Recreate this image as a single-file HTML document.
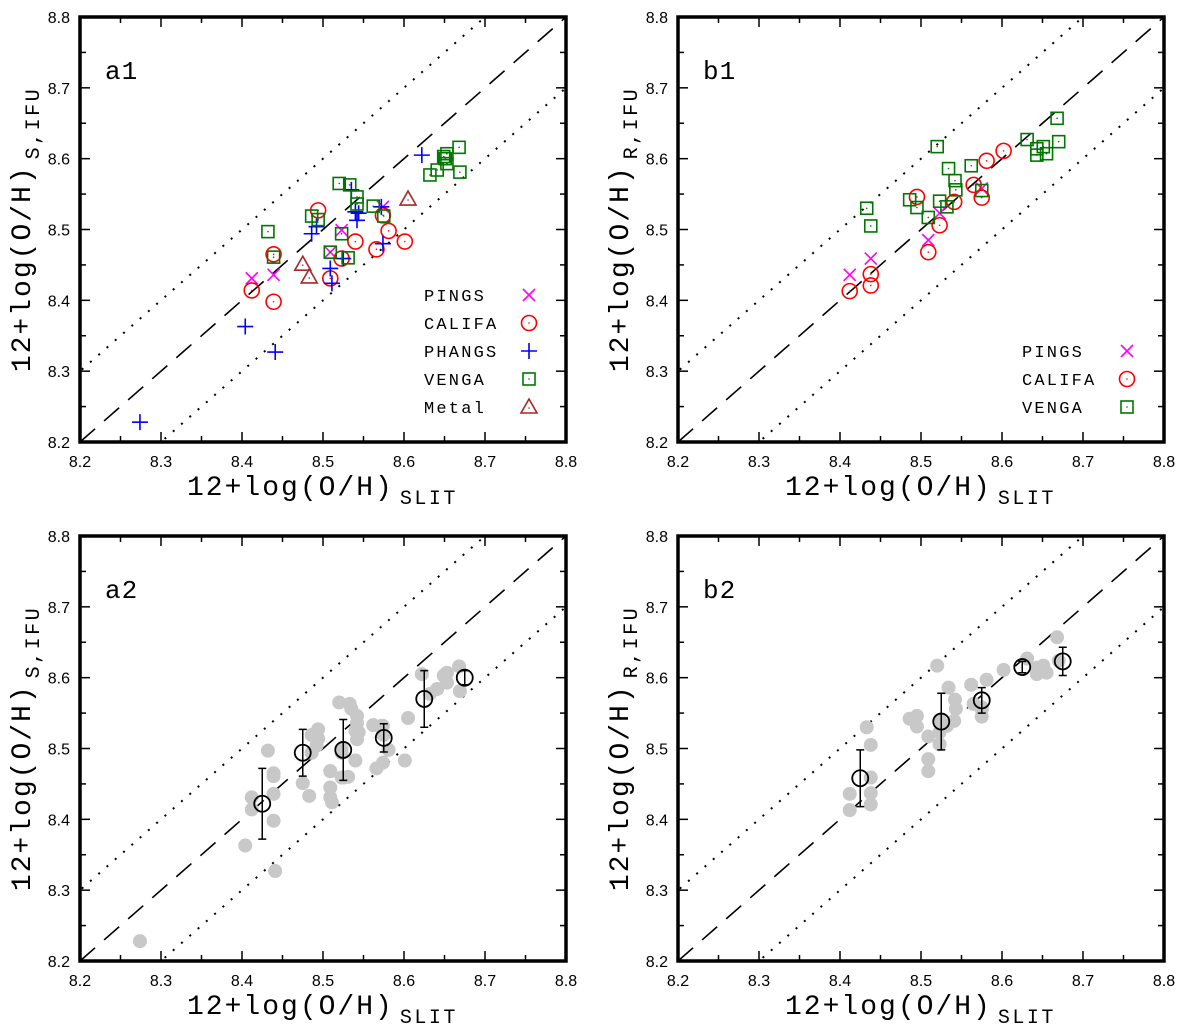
<!DOCTYPE html>
<html><head><meta charset="utf-8"><style>
html,body{margin:0;padding:0;background:#fff;width:1200px;height:1031px;overflow:hidden;}
svg{display:block;}
</style></head><body>
<svg id="fig" width="1200" height="1031" viewBox="0 0 1200 1031" xmlns="http://www.w3.org/2000/svg"></svg>
<script>
// ---- data ----
const pingsA = [[8.412,8.431],[8.439,8.436],[8.509,8.468],[8.523,8.499],[8.574,8.532]];
const califaA = [[8.412,8.414],[8.439,8.465],[8.439,8.398],[8.494,8.527],[8.509,8.431],[8.523,8.459],[8.540,8.483],[8.566,8.472],[8.574,8.520],[8.581,8.498],[8.601,8.483]];
const phangsA = [[8.274,8.228],[8.404,8.363],[8.441,8.327],[8.486,8.494],[8.492,8.504],[8.509,8.445],[8.511,8.424],[8.525,8.459],[8.535,8.556],[8.540,8.525],[8.544,8.523],[8.542,8.513],[8.572,8.532],[8.574,8.480],[8.622,8.605]];
const vengaA = [[8.432,8.497],[8.439,8.461],[8.486,8.519],[8.494,8.514],[8.509,8.468],[8.520,8.565],[8.523,8.494],[8.533,8.563],[8.531,8.460],[8.542,8.546],[8.542,8.536],[8.562,8.533],[8.575,8.519],[8.632,8.577],[8.641,8.584],[8.653,8.593],[8.649,8.603],[8.653,8.607],[8.668,8.616],[8.669,8.581],[8.651,8.600]];
const metalA = [[8.475,8.451],[8.483,8.433],[8.605,8.543]];
const pingsB = [[8.412,8.436],[8.438,8.459],[8.509,8.485],[8.523,8.523],[8.575,8.558]];
const califaB = [[8.412,8.413],[8.438,8.437],[8.438,8.421],[8.495,8.546],[8.509,8.468],[8.523,8.506],[8.541,8.539],[8.565,8.563],[8.575,8.545],[8.581,8.597],[8.602,8.611]];
const vengaB = [[8.433,8.530],[8.438,8.505],[8.486,8.542],[8.495,8.531],[8.509,8.517],[8.520,8.617],[8.534,8.586],[8.523,8.540],[8.532,8.532],[8.542,8.569],[8.543,8.556],[8.562,8.590],[8.575,8.555],[8.631,8.627],[8.643,8.614],[8.643,8.605],[8.651,8.617],[8.655,8.607],[8.668,8.657],[8.670,8.624]];
const binX = [8.425,8.475,8.525,8.575,8.625,8.675];
const binYA = [8.422,8.494,8.498,8.515,8.570,8.600];
const binErrA = [0.050,0.033,0.043,0.020,0.040,0.010];
const binXB = [8.425,8.525,8.575,8.625,8.675];
const binYB = [8.458,8.538,8.568,8.615,8.623];
const binErrB = [0.040,0.040,0.018,0.008,0.020];
const ticks = [8.2,8.3,8.4,8.5,8.6,8.7,8.8];
const tickLabels = ["8.2","8.3","8.4","8.5","8.6","8.7","8.8"];

const NS="http://www.w3.org/2000/svg";
const svg=document.getElementById('fig');
function mk(tag,attrs,parent){const e=document.createElementNS(NS,tag);for(const k in attrs)e.setAttribute(k,attrs[k]);(parent||svg).appendChild(e);return e;}

function panel(x0,y0,name,label,ysub){
  const W=486,H=425;
  const g=mk('g',{});
  
  
  const sx=v=>x0+(v-8.2)/0.6*W, sy=v=>y0+H-(v-8.2)/0.6*H;
  const clip='clip-'+name;
  const cp=mk('clipPath',{id:clip},g); mk('rect',{x:x0,y:y0,width:W,height:H},cp);
  const lines=mk('g',{'clip-path':'url(#'+clip+')'},g);
  const d=mk('line',{x1:sx(8.2),y1:sy(8.2),x2:sx(8.8),y2:sy(8.8),stroke:'#000','stroke-width':1.6,'stroke-dasharray':'20,12'},lines);
  
  
  [0.1,-0.1].forEach(o=>{
    const l=mk('line',{x1:sx(8.1),y1:sy(8.1+o),x2:sx(8.9),y2:sy(8.9+o),stroke:'#000','stroke-width':2,'stroke-dasharray':'2,9'},lines);
    
    
  });
  for(let v=8.2;v<=8.8001;v+=0.05){
    const major=Math.abs(Math.round(v*10)-v*10)<1e-6, L=major?10:6;
    mk('line',{x1:sx(v),y1:y0+H,x2:sx(v),y2:y0+H-L,stroke:'#000','stroke-width':1.5},g);
    mk('line',{x1:sx(v),y1:y0,x2:sx(v),y2:y0+L,stroke:'#000','stroke-width':1.5},g);
    mk('line',{x1:x0,y1:sy(v),x2:x0+L,y2:sy(v),stroke:'#000','stroke-width':1.5},g);
    mk('line',{x1:x0+W,y1:sy(v),x2:x0+W-L,y2:sy(v),stroke:'#000','stroke-width':1.5},g);
  }
  ticks.forEach((v,i)=>{
    const t=mk('text',{x:sx(v),y:y0+H+25,'text-anchor':'middle','font-size':16,'font-family':'Liberation Sans, sans-serif'},g);
    t.textContent=tickLabels[i];
    
    
    const u=mk('text',{x:x0-10,y:sy(v)+6,'text-anchor':'end','font-size':16,'font-family':'Liberation Sans, sans-serif'},g);
    u.textContent=tickLabels[i];
    
    
  });
  mk('rect',{x:x0,y:y0,width:W,height:H,fill:'none',stroke:'#000','stroke-width':3.5},g);
  const pl=mk('text',{x:x0+25,y:y0+62,'font-size':26,'font-family':'Liberation Mono, monospace','letter-spacing':1},g);
  pl.textContent=label;
  
  
  const xt=mk('text',{x:x0+107,y:y0+H+53,'font-size':28,'letter-spacing':2,'font-family':'Liberation Mono, monospace'},g);
  xt.innerHTML='12+log(O/H)<tspan font-size="20" letter-spacing="2.5" dy="9" dx="6">SLIT</tspan>';
  
  
  const yt=mk('text',{x:0,y:0,'text-anchor':'middle','font-size':28,'letter-spacing':2,'font-family':'Liberation Mono, monospace',transform:`translate(${x0-50},${y0+H/2}) rotate(-90)`},g);
  yt.innerHTML='12+log(O/H)<tspan font-size="20" letter-spacing="2.5" dy="9" dx="6">'+ysub+'</tspan>';
  
  
  return {g,sx,sy,x0,y0};
}
function cross(g,x,y,c){const e=mk('path',{d:`M${x-6} ${y-6}L${x+6} ${y+6}M${x-6} ${y+6}L${x+6} ${y-6}`,stroke:c,'stroke-width':1.6,fill:'none'},g);}
function circ(g,x,y){const e=mk('circle',{cx:x,cy:y,r:7.5,stroke:'#f00','stroke-width':1.6,fill:'none'},g);mk('circle',{cx:x,cy:y,r:0.8,fill:'#f00'},g);}
function plus(g,x,y){const e=mk('path',{d:`M${x-8} ${y}L${x+8} ${y}M${x} ${y-8}L${x} ${y+8}`,stroke:'#00f','stroke-width':1.6,fill:'none'},g);}
function sq(g,x,y){const e=mk('rect',{x:x-6,y:y-6,width:12,height:12,stroke:'#070','stroke-width':1.6,fill:'none'},g);mk('circle',{cx:x,cy:y,r:0.8,fill:'#070'},g);}
function tri(g,x,y){const e=mk('path',{d:`M${x} ${y-8}L${x+8} ${y+6}L${x-8} ${y+6}Z`,stroke:'#a52a2a','stroke-width':1.6,fill:'none'},g);mk('circle',{cx:x,cy:y+1,r:0.8,fill:'#a52a2a'},g);}
function legend(g,x,y,label,fn){const t=mk('text',{x:x,y:y+6,'font-size':17,'letter-spacing':2.2,'font-family':'Liberation Mono, monospace'},g);t.textContent=label;fn(g,x+105,y);}

const a1=panel(80,17,'panel-a1','a1','S,IFU');
pingsA.forEach(p=>cross(a1.g,a1.sx(p[0]),a1.sy(p[1]),'#f0f'));
califaA.forEach(p=>circ(a1.g,a1.sx(p[0]),a1.sy(p[1])));
phangsA.forEach(p=>plus(a1.g,a1.sx(p[0]),a1.sy(p[1])));
vengaA.forEach(p=>sq(a1.g,a1.sx(p[0]),a1.sy(p[1])));
metalA.forEach(p=>tri(a1.g,a1.sx(p[0]),a1.sy(p[1])));
legend(a1.g,424,295,'PINGS',(g,x,y)=>cross(g,x,y,'#f0f'));
legend(a1.g,424,323,'CALIFA',circ);
legend(a1.g,424,351,'PHANGS',plus);
legend(a1.g,424,379,'VENGA',sq);
legend(a1.g,424,407,'Metal',tri);
const b1=panel(678,17,'panel-b1','b1','R,IFU');
pingsB.forEach(p=>cross(b1.g,b1.sx(p[0]),b1.sy(p[1]),'#f0f'));
califaB.forEach(p=>circ(b1.g,b1.sx(p[0]),b1.sy(p[1])));
vengaB.forEach(p=>sq(b1.g,b1.sx(p[0]),b1.sy(p[1])));
legend(b1.g,1022,351,'PINGS',(g,x,y)=>cross(g,x,y,'#f0f'));
legend(b1.g,1022,379,'CALIFA',circ);
legend(b1.g,1022,407,'VENGA',sq);

function binned(P,pts,bx,by,be){
  pts.forEach(p=>{const c=mk('circle',{cx:P.sx(p[0]),cy:P.sy(p[1]),r:7,fill:'#c8c8c8'},P.g);});
  bx.forEach((x,i)=>{
    const X=P.sx(x),Y1=P.sy(by[i]-be[i]),Y2=P.sy(by[i]+be[i]);
    const e=mk('path',{d:`M${X} ${Y1}L${X} ${Y2}M${X-4} ${Y1}L${X+4} ${Y1}M${X-4} ${Y2}L${X+4} ${Y2}`,stroke:'#000','stroke-width':1.5,fill:'none'},P.g);
    
    
    const c=mk('circle',{cx:X,cy:P.sy(by[i]),r:8,fill:'none',stroke:'#000','stroke-width':1.8},P.g);
    
    
  });
}
const a2=panel(80,536,'panel-a2','a2','S,IFU');
binned(a2,pingsA.concat(califaA,phangsA,vengaA,metalA),binX,binYA,binErrA);
const b2=panel(678,536,'panel-b2','b2','R,IFU');
binned(b2,pingsB.concat(califaB,vengaB),binXB,binYB,binErrB);
</script>
</body></html>
